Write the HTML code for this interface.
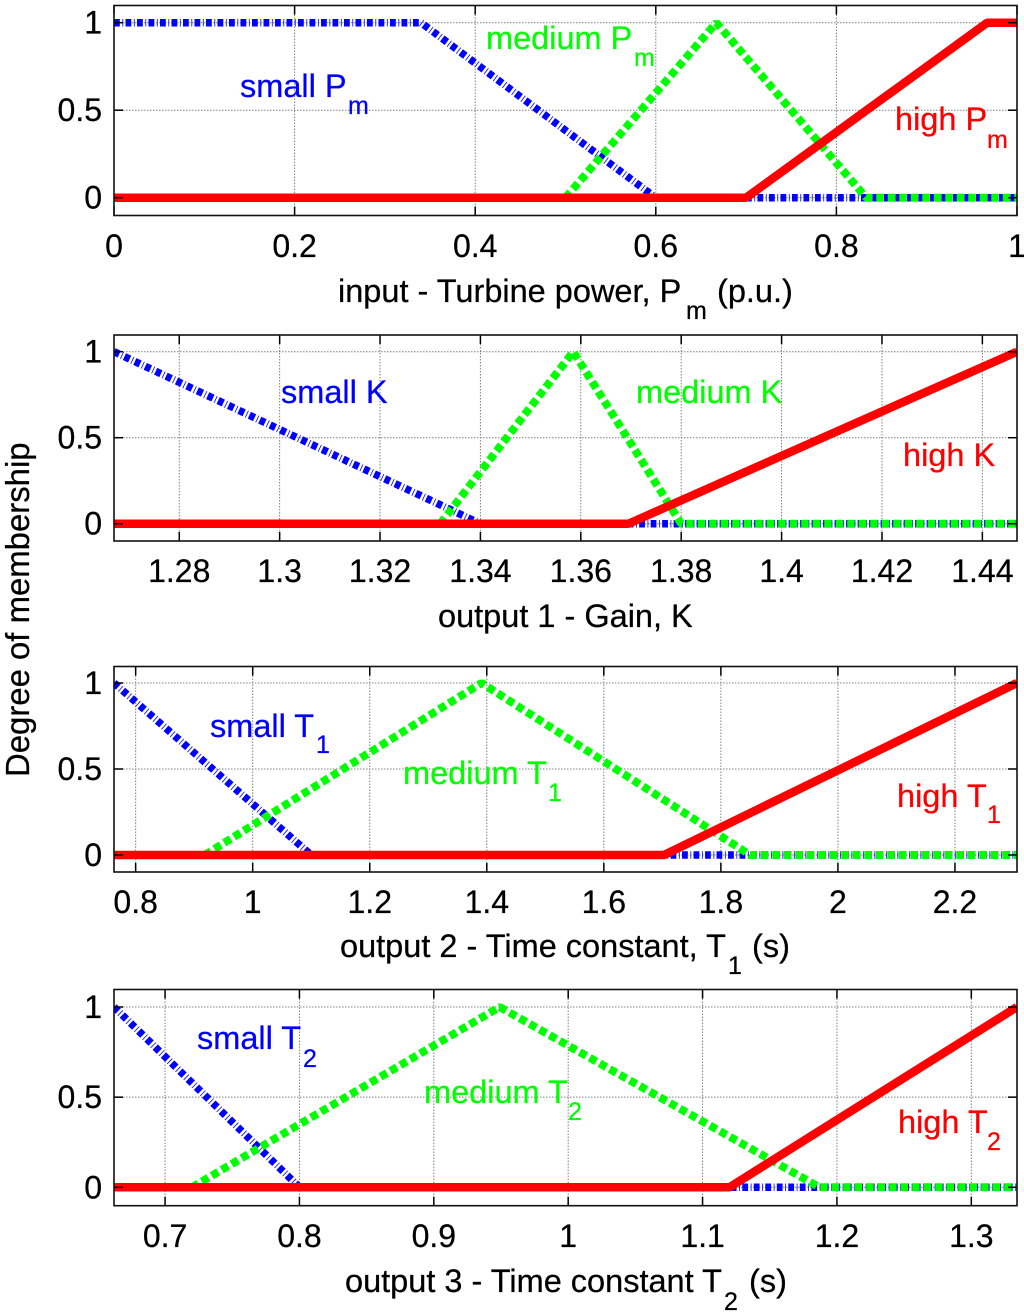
<!DOCTYPE html>
<html lang="en">
<head>
<meta charset="utf-8">
<title>Fuzzy membership functions</title>
<style>
html,body{margin:0;padding:0;background:#fff;}
body{width:1024px;height:1315px;overflow:hidden;}
svg{display:block;filter:blur(0.35px);}
text{font-family:"Liberation Sans",sans-serif;font-size:32.5px;fill:#000;stroke:#000;stroke-width:0.25px;}
.tick-label{font-size:32px;}
.sub{font-size:25px;}
.blue{fill:#0000ff;stroke:#0000ff;}
.green{fill:#00ff00;stroke:#00ff00;}
.red{fill:#ff0000;stroke:#ff0000;}
</style>
</head>
<body>
<svg id="chart" xmlns="http://www.w3.org/2000/svg" width="1024" height="1315" viewBox="0 0 1024 1315">
  <rect width="1024" height="1315" fill="#fff"/>
  <g id="plots"></g>
  <g id="labels">
    <text transform="translate(29,777) rotate(-90)" style="font-size:32.9px">Degree of membership</text>

    <text class="blue" x="240" y="97">small P<tspan class="sub" x="348" y="114">m</tspan></text>
    <text class="green" x="486" y="49">medium P<tspan class="sub" x="634" y="66">m</tspan></text>
    <text class="red" x="895" y="130">high P<tspan class="sub" x="987" y="148">m</tspan></text>
    <text x="338" y="302">input - Turbine power, P<tspan class="sub" x="686" y="319">m</tspan><tspan x="717" y="302">(p.u.)</tspan></text>

    <text class="blue" x="281" y="403">small K</text>
    <text class="green" x="636" y="403">medium K</text>
    <text class="red" x="903" y="466">high K</text>
    <text x="438" y="627">output 1 - Gain, K</text>

    <text class="blue" x="210" y="737">small T<tspan class="sub" x="316" y="753">1</tspan></text>
    <text class="green" x="403" y="784">medium T<tspan class="sub" x="548" y="801">1</tspan></text>
    <text class="red" x="897" y="807">high T<tspan class="sub" x="987" y="823">1</tspan></text>
    <text x="340" y="957">output 2 - Time constant, T<tspan class="sub" x="728" y="974">1</tspan><tspan x="752" y="957">(s)</tspan></text>

    <text class="blue" x="197" y="1049">small T<tspan class="sub" x="303" y="1067">2</tspan></text>
    <text class="green" x="424" y="1103">medium T<tspan class="sub" x="568" y="1120">2</tspan></text>
    <text class="red" x="898" y="1133">high T<tspan class="sub" x="987" y="1150">2</tspan></text>
    <text x="345" y="1292">output 3 - Time constant T<tspan class="sub" x="724" y="1310">2</tspan><tspan x="749" y="1292">(s)</tspan></text>
  </g>
</svg>
<script>
// Shared y axis
const yTicks = [0, 0.5, 1];
const yTickLabels = ["0", "0.5", "1"];

// Panel 1: turbine power
const powerDomain = [0, 1];
const powerTicks = [0, 0.2, 0.4, 0.6, 0.8, 1];
const powerTickLabels = ["0", "0.2", "0.4", "0.6", "0.8", "1"];
const powerSmallX = [0, 0.34, 0.6, 1];
const powerSmallY = [1, 1, 0, 0];
const powerMediumX = [0.5, 0.667, 0.833, 1];
const powerMediumY = [0, 1, 0, 0];
const powerHighX = [0, 0.7, 0.967, 1];
const powerHighY = [0, 0, 1, 1];

// Panel 2: gain
const gainDomain = [1.267, 1.4469];
const gainTicks = [1.28, 1.3, 1.32, 1.34, 1.36, 1.38, 1.4, 1.42, 1.44];
const gainTickLabels = ["1.28", "1.3", "1.32", "1.34", "1.36", "1.38", "1.4", "1.42", "1.44"];
const gainSmallX = [1.267, 1.34, 1.4469];
const gainSmallY = [1, 0, 0];
const gainMediumX = [1.332, 1.3585, 1.38, 1.4469];
const gainMediumY = [0, 1, 0, 0];
const gainHighX = [1.267, 1.3695, 1.4469];
const gainHighY = [0, 0, 1];

// Panel 3: time constant T1
const t1Domain = [0.763, 2.306];
const t1Ticks = [0.8, 1, 1.2, 1.4, 1.6, 1.8, 2, 2.2];
const t1TickLabels = ["0.8", "1", "1.2", "1.4", "1.6", "1.8", "2", "2.2"];
const t1SmallX = [0.763, 1.1, 2.306];
const t1SmallY = [1, 0, 0];
const t1MediumX = [0.918, 1.391, 1.85, 2.306];
const t1MediumY = [0, 1, 0, 0];
const t1HighX = [0.763, 1.703, 2.306];
const t1HighY = [0, 0, 1];

// Panel 4: time constant T2
const t2Domain = [0.662, 1.334];
const t2Ticks = [0.7, 0.8, 0.9, 1, 1.1, 1.2, 1.3];
const t2TickLabels = ["0.7", "0.8", "0.9", "1", "1.1", "1.2", "1.3"];
const t2SmallX = [0.662, 0.8, 1.334];
const t2SmallY = [1, 0, 0];
const t2MediumX = [0.72, 0.949, 1.187, 1.334];
const t2MediumY = [0, 1, 0, 0];
const t2HighX = [0.662, 1.12, 1.334];
const t2HighY = [0, 0, 1];

const SVG_NS = "http://www.w3.org/2000/svg";
const plotsRoot = document.getElementById("plots");

function line(parent, x1, y1, x2, y2, stroke, width, dash) {
  const el = document.createElementNS(SVG_NS, "line");
  el.setAttribute("x1", x1);
  el.setAttribute("y1", y1);
  el.setAttribute("x2", x2);
  el.setAttribute("y2", y2);
  el.setAttribute("stroke", stroke);
  el.setAttribute("stroke-width", width);
  if (dash) el.setAttribute("stroke-dasharray", dash);
  parent.appendChild(el);
  return el;
}

function series(parent, xs, ys, sx, sy, stroke, width, dash, clipId, name) {
  const el = document.createElementNS(SVG_NS, "polyline");
  
  
  el.setAttribute("points", xs.map(function (x, i) { return sx(x).toFixed(2) + "," + sy(ys[i]).toFixed(2); }).join(" "));
  el.setAttribute("fill", "none");
  el.setAttribute("stroke", stroke);
  el.setAttribute("stroke-width", width);
  el.setAttribute("stroke-linejoin", "bevel");
  if (dash) el.setAttribute("stroke-dasharray", dash);
  el.setAttribute("clip-path", "url(#" + clipId + ")");
  parent.appendChild(el);
}

function drawPanel(p) {
  const left = 114, right = 1017;
  const sx = function (v) { return left + (v - p.domain[0]) / (p.domain[1] - p.domain[0]) * (right - left); };
  const sy = function (v) { return p.y0 + (p.y1 - p.y0) * v; };

  const g = document.createElementNS(SVG_NS, "g");
  
  
  plotsRoot.appendChild(g);

  const clipId = p.name + "-clip";
  const clip = document.createElementNS(SVG_NS, "clipPath");
  clip.setAttribute("id", clipId);
  const clipRect = document.createElementNS(SVG_NS, "rect");
  clipRect.setAttribute("x", left);
  clipRect.setAttribute("y", p.top);
  clipRect.setAttribute("width", right - left);
  clipRect.setAttribute("height", p.bottom - p.top);
  clip.appendChild(clipRect);
  g.appendChild(clip);

  const gridDash = "1.5 1.5";
  const gridColor = "#808080";

  p.ticks.forEach(function (t, i) {
    const gl = line(g, sx(t), p.top, sx(t), p.bottom, gridColor, 1, gridDash);
    
    
  });
  yTicks.forEach(function (t) {
    const gl = line(g, left, sy(t), right, sy(t), gridColor, 1, gridDash);
    
    
  });

  series(g, p.smallX, p.smallY, sx, sy, "#0000ff", 7.5, "5.8 2.6 0.8 2.3", clipId, "series-small");
  series(g, p.mediumX, p.mediumY, sx, sy, "#00ff00", 8, "7.5 4", clipId, "series-medium");
  series(g, p.highX, p.highY, sx, sy, "#ff0000", 8.5, "", clipId, "series-high");

  p.ticks.forEach(function (t, i) {
    const tb = line(g, sx(t), p.bottom, sx(t), p.bottom - 9, "#000", 1.5);
    
    
    const tt = line(g, sx(t), p.top, sx(t), p.top + 9, "#000", 1.5);
    
    
    const lab = document.createElementNS(SVG_NS, "text");
    
    
    lab.setAttribute("class", "tick-label");
    lab.setAttribute("x", sx(t));
    lab.setAttribute("y", p.xLabelY);
    lab.setAttribute("text-anchor", "middle");
    lab.textContent = p.tickLabels[i];
    g.appendChild(lab);
  });

  yTicks.forEach(function (t, i) {
    const tl = line(g, left, sy(t), left + 9, sy(t), "#000", 1.5);
    
    
    const tr = line(g, right, sy(t), right - 9, sy(t), "#000", 1.5);
    
    
    const lab = document.createElementNS(SVG_NS, "text");
    
    
    lab.setAttribute("class", "tick-label");
    lab.setAttribute("x", 102);
    lab.setAttribute("y", sy(t) + 11);
    lab.setAttribute("text-anchor", "end");
    lab.textContent = yTickLabels[i];
    g.appendChild(lab);
  });

  const frame = document.createElementNS(SVG_NS, "rect");
  
  
  frame.setAttribute("x", left);
  frame.setAttribute("y", p.top);
  frame.setAttribute("width", right - left);
  frame.setAttribute("height", p.bottom - p.top);
  frame.setAttribute("fill", "none");
  frame.setAttribute("stroke", "#111");
  frame.setAttribute("stroke-width", 1.6);
  g.appendChild(frame);
}

drawPanel({ name: "panel-turbine-power", domain: powerDomain, ticks: powerTicks, tickLabels: powerTickLabels,
  smallX: powerSmallX, smallY: powerSmallY, mediumX: powerMediumX, mediumY: powerMediumY, highX: powerHighX, highY: powerHighY,
  top: 5.5, bottom: 215.5, y1: 22.7, y0: 197.7, xLabelY: 257 });
drawPanel({ name: "panel-gain", domain: gainDomain, ticks: gainTicks, tickLabels: gainTickLabels,
  smallX: gainSmallX, smallY: gainSmallY, mediumX: gainMediumX, mediumY: gainMediumY, highX: gainHighX, highY: gainHighY,
  top: 335, bottom: 541, y1: 351.7, y0: 523.7, xLabelY: 582 });
drawPanel({ name: "panel-t1", domain: t1Domain, ticks: t1Ticks, tickLabels: t1TickLabels,
  smallX: t1SmallX, smallY: t1SmallY, mediumX: t1MediumX, mediumY: t1MediumY, highX: t1HighX, highY: t1HighY,
  top: 666.5, bottom: 872, y1: 683, y0: 855, xLabelY: 913 });
drawPanel({ name: "panel-t2", domain: t2Domain, ticks: t2Ticks, tickLabels: t2TickLabels,
  smallX: t2SmallX, smallY: t2SmallY, mediumX: t2MediumX, mediumY: t2MediumY, highX: t2HighX, highY: t2HighY,
  top: 989.5, bottom: 1205.7, y1: 1007, y0: 1187.3, xLabelY: 1247 });
</script>
</body>
</html>
